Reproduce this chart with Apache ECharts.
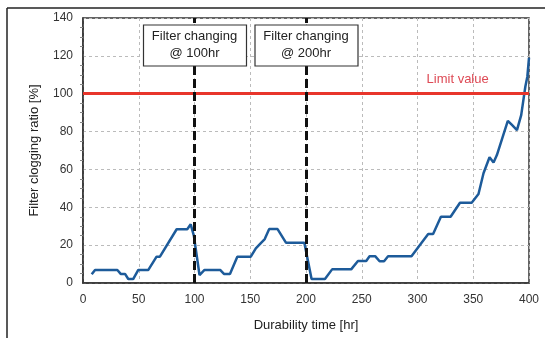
<!DOCTYPE html>
<html>
<head>
<meta charset="utf-8">
<script src="https://cdn.jsdelivr.net/npm/echarts@6/dist/echarts.min.js"></script>
<style>
  html, body { margin: 0; padding: 0; background: #fff; }
  #main { width: 550px; height: 338px; }
</style>
</head>
<body>
<div id="main"></div>
<script>
// durability time [hr] and filter clogging ratio [%]
const timeHr = [7.8, 10.8, 30.8, 33.8, 37.7, 40.6, 45, 49.6, 58.6, 66, 69, 84, 93.5, 96.6, 99.4, 104.5, 109, 123, 126.4, 131.8,
  138.4, 150.5, 155, 159.5, 163, 167, 174.5, 182, 198.5, 205, 217, 223.4, 240.5, 246.6, 254, 257, 262.2, 266, 270, 273.6,
  294.6, 302, 309.6, 314, 321, 329.7, 338.1, 348.6, 354.7, 359.2, 364.6, 368.2, 371.2, 377.2, 381, 384.7, 389.2, 393, 396.7, 398.5, 400];
const clogRatio = [4.6, 6.9, 6.9, 4.8, 4.8, 2.1, 2.1, 6.9, 6.9, 13.9, 13.9, 28.4, 28.4, 31, 25, 4.2, 6.9, 6.9, 4.8, 4.8,
  13.9, 13.9, 18.3, 21.1, 23.2, 28.5, 28.5, 21.3, 21.3, 2.1, 2.1, 7.2, 7.2, 11.6, 11.6, 14.1, 14.1, 11.5, 11.5, 14.1,
  14.1, 20, 25.9, 25.9, 35, 35, 42.4, 42.4, 47, 58, 66.4, 63.6, 67.6, 78.7, 85.7, 83.5, 80.8, 88.7, 103.7, 109, 119];

const xTicks = [0, 50, 100, 150, 200, 250, 300, 350, 400];
const yTicks = [0, 20, 40, 60, 80, 100, 120, 140];
const filterChanges = [100, 200];
const limitValue = 100;

const font = 'Liberation Sans, Arial, sans-serif';
const chart = echarts.init(document.getElementById('main'));

const option = {
  animation: false,
  backgroundColor: '#fff',
  grid: {
    left: 83, right: 21, top: 18, bottom: 55,
    show: true, borderColor: '#333', borderWidth: 1.5
  },
  xAxis: {
    type: 'value',
    min: xTicks[0], max: xTicks[xTicks.length - 1], interval: 50,
    name: 'Durability time [hr]',
    nameLocation: 'middle', nameGap: 36,
    nameTextStyle: { fontFamily: font, fontSize: 13, color: '#222' },
    axisLine: { lineStyle: { color: '#333', width: 1.5 } },
    axisTick: { show: false },
    axisLabel: { margin: 11, fontFamily: font, fontSize: 12, color: '#333' },
    splitLine: { lineStyle: { color: '#bbb', type: [3, 3], width: 1 } }
  },
  yAxis: {
    type: 'value',
    min: yTicks[0], max: yTicks[yTicks.length - 1], interval: 20,
    name: 'Filter clogging ratio [%]',
    nameLocation: 'middle', nameGap: 42,
    nameTextStyle: { fontFamily: font, fontSize: 13, color: '#222' },
    axisLine: { show: true, lineStyle: { color: '#333', width: 1.5 } },
    axisTick: { show: false },
    minorTick: { show: true, splitNumber: 4, length: 3, lineStyle: { color: '#888' } },
    axisLabel: { margin: 10, fontFamily: font, fontSize: 12, color: '#333' },
    splitLine: { lineStyle: { color: '#bbb', type: [3, 3], width: 1 } }
  },
  series: [
    {
      type: 'line',
      name: 'limit',
      data: [],
      markLine: {
        silent: true,
        symbol: 'none',
        label: { show: false },
        lineStyle: { color: '#e8352b', width: 3, type: 'solid' },
        data: [{ yAxis: limitValue }]
      }
    },
    {
      type: 'line',
      name: 'changes',
      data: [],
      z: 3,
      markLine: {
        silent: true,
        symbol: 'none',
        label: { show: false },
        lineStyle: { color: '#111', width: 3, type: [9, 4] },
        data: filterChanges.map(v => ({ xAxis: v }))
      }
    },
    {
      type: 'line',
      name: 'Filter clogging ratio',
      z: 4,
      showSymbol: false,
      lineStyle: { color: '#1d5b9a', width: 2.5 },
      data: timeHr.map((t, i) => [t, clogRatio[i]])
    }
  ]
};
chart.setOption(option);

// annotation boxes and frame, placed from axis coordinates
const graphics = [
  { type: 'line', shape: { x1: 7, y1: 8, x2: 545, y2: 8 }, style: { stroke: '#222', lineWidth: 1.5 } },
  { type: 'line', shape: { x1: 7, y1: 8, x2: 7, y2: 338 }, style: { stroke: '#222', lineWidth: 1.5 } }
];
filterChanges.forEach(v => {
  const p = chart.convertToPixel({ gridIndex: 0 }, [v, 0]);
  graphics.push({
    type: 'rect', zlevel: 1, z: 100,
    shape: { x: p[0] - 51, y: 25, width: 103, height: 41 },
    style: { fill: '#fff', stroke: '#333', lineWidth: 1.2 }
  });
  graphics.push({
    type: 'text', zlevel: 1, z: 101, x: p[0], y: 45,
    style: { text: 'Filter changing\n@ ' + v + 'hr', fontFamily: font, fontSize: 13, fill: '#222',
      align: 'center', verticalAlign: 'middle', lineHeight: 17 }
  });
});
const lp = chart.convertToPixel({ gridIndex: 0 }, [336, limitValue]);
graphics.push({
  type: 'text', x: lp[0], y: lp[1] - 14, z: 100,
  style: { text: 'Limit value', fontFamily: font, fontSize: 13, fill: '#de4a55', align: 'center', verticalAlign: 'middle' }
});
chart.setOption({ graphic: graphics });
</script>
</body>
</html>
